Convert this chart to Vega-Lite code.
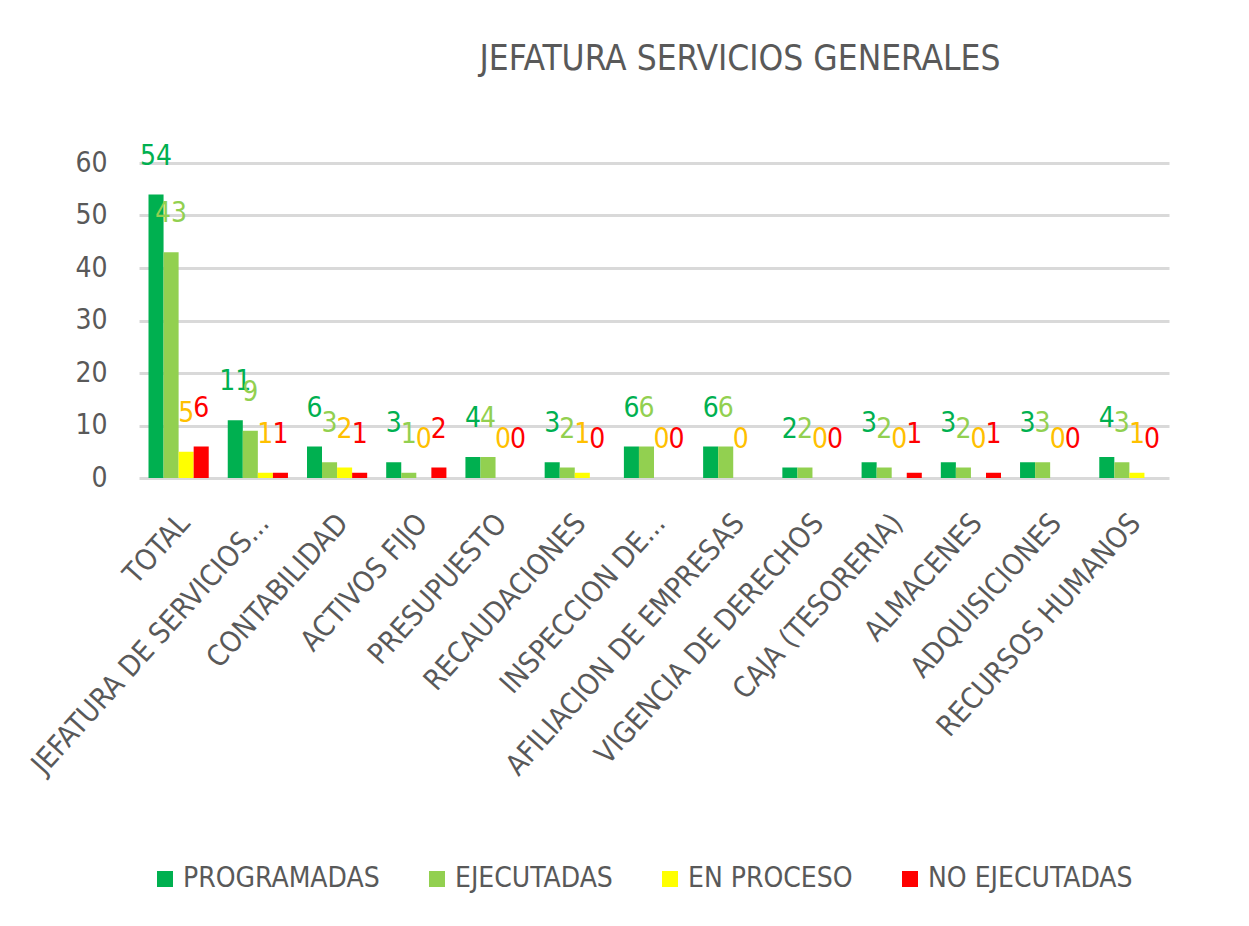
{
  "$schema": "https://vega.github.io/schema/vega-lite/v6.json",
  "width": 1030,
  "height": 315,
  "autosize": {"type": "none"},
  "padding": {"left": 139, "top": 163, "right": 80, "bottom": 448},
  "background": "white",
  "title": {
    "text": "JEFATURA SERVICIOS GENERALES",
    "font": "DejaVu Sans Condensed",
    "fontSize": 35,
    "fontWeight": "normal",
    "color": "#595959",
    "anchor": "middle",
    "dx": 86,
    "offset": 66
  },
  "config": {
    "view": {"stroke": null},
    "font": "DejaVu Sans Condensed"
  },
  "data": {
    "values": [
      {"cat": "TOTAL", "serie": "PROGRAMADAS", "value": 54},
      {"cat": "TOTAL", "serie": "EJECUTADAS", "value": 43},
      {"cat": "TOTAL", "serie": "EN PROCESO", "value": 5},
      {"cat": "TOTAL", "serie": "NO EJECUTADAS", "value": 6},
      {"cat": "JEFATURA DE SERVICIOS...", "serie": "PROGRAMADAS", "value": 11},
      {"cat": "JEFATURA DE SERVICIOS...", "serie": "EJECUTADAS", "value": 9},
      {"cat": "JEFATURA DE SERVICIOS...", "serie": "EN PROCESO", "value": 1},
      {"cat": "JEFATURA DE SERVICIOS...", "serie": "NO EJECUTADAS", "value": 1},
      {"cat": "CONTABILIDAD", "serie": "PROGRAMADAS", "value": 6},
      {"cat": "CONTABILIDAD", "serie": "EJECUTADAS", "value": 3},
      {"cat": "CONTABILIDAD", "serie": "EN PROCESO", "value": 2},
      {"cat": "CONTABILIDAD", "serie": "NO EJECUTADAS", "value": 1},
      {"cat": "ACTIVOS FIJO", "serie": "PROGRAMADAS", "value": 3},
      {"cat": "ACTIVOS FIJO", "serie": "EJECUTADAS", "value": 1},
      {"cat": "ACTIVOS FIJO", "serie": "EN PROCESO", "value": 0},
      {"cat": "ACTIVOS FIJO", "serie": "NO EJECUTADAS", "value": 2},
      {"cat": "PRESUPUESTO", "serie": "PROGRAMADAS", "value": 4},
      {"cat": "PRESUPUESTO", "serie": "EJECUTADAS", "value": 4},
      {"cat": "PRESUPUESTO", "serie": "EN PROCESO", "value": 0},
      {"cat": "PRESUPUESTO", "serie": "NO EJECUTADAS", "value": 0},
      {"cat": "RECAUDACIONES", "serie": "PROGRAMADAS", "value": 3},
      {"cat": "RECAUDACIONES", "serie": "EJECUTADAS", "value": 2},
      {"cat": "RECAUDACIONES", "serie": "EN PROCESO", "value": 1},
      {"cat": "RECAUDACIONES", "serie": "NO EJECUTADAS", "value": 0},
      {"cat": "INSPECCION DE...", "serie": "PROGRAMADAS", "value": 6},
      {"cat": "INSPECCION DE...", "serie": "EJECUTADAS", "value": 6},
      {"cat": "INSPECCION DE...", "serie": "EN PROCESO", "value": 0},
      {"cat": "INSPECCION DE...", "serie": "NO EJECUTADAS", "value": 0},
      {"cat": "AFILIACION DE EMPRESAS", "serie": "PROGRAMADAS", "value": 6},
      {"cat": "AFILIACION DE EMPRESAS", "serie": "EJECUTADAS", "value": 6},
      {"cat": "AFILIACION DE EMPRESAS", "serie": "EN PROCESO", "value": 0},
      {"cat": "VIGENCIA DE DERECHOS", "serie": "PROGRAMADAS", "value": 2},
      {"cat": "VIGENCIA DE DERECHOS", "serie": "EJECUTADAS", "value": 2},
      {"cat": "VIGENCIA DE DERECHOS", "serie": "EN PROCESO", "value": 0},
      {"cat": "VIGENCIA DE DERECHOS", "serie": "NO EJECUTADAS", "value": 0},
      {"cat": "CAJA (TESORERIA)", "serie": "PROGRAMADAS", "value": 3},
      {"cat": "CAJA (TESORERIA)", "serie": "EJECUTADAS", "value": 2},
      {"cat": "CAJA (TESORERIA)", "serie": "EN PROCESO", "value": 0},
      {"cat": "CAJA (TESORERIA)", "serie": "NO EJECUTADAS", "value": 1},
      {"cat": "ALMACENES", "serie": "PROGRAMADAS", "value": 3},
      {"cat": "ALMACENES", "serie": "EJECUTADAS", "value": 2},
      {"cat": "ALMACENES", "serie": "EN PROCESO", "value": 0},
      {"cat": "ALMACENES", "serie": "NO EJECUTADAS", "value": 1},
      {"cat": "ADQUISICIONES", "serie": "PROGRAMADAS", "value": 3},
      {"cat": "ADQUISICIONES", "serie": "EJECUTADAS", "value": 3},
      {"cat": "ADQUISICIONES", "serie": "EN PROCESO", "value": 0},
      {"cat": "ADQUISICIONES", "serie": "NO EJECUTADAS", "value": 0},
      {"cat": "RECURSOS HUMANOS", "serie": "PROGRAMADAS", "value": 4},
      {"cat": "RECURSOS HUMANOS", "serie": "EJECUTADAS", "value": 3},
      {"cat": "RECURSOS HUMANOS", "serie": "EN PROCESO", "value": 1},
      {"cat": "RECURSOS HUMANOS", "serie": "NO EJECUTADAS", "value": 0}
    ]
  },
  "encoding": {
    "x": {
      "field": "cat",
      "type": "nominal",
      "sort": null,
      "scale": {"paddingInner": 0.24, "paddingOuter": 0.12},
      "axis": {
        "title": null,
        "domain": false,
        "ticks": false,
        "labelAngle": -48,
        "labelAlign": "right",
        "labelBaseline": "middle",
        "labelPadding": 40,
        "labelOffset": 6,
        "labelFontSize": 29,
        "labelColor": "#595959",
        "labelLimit": 400
      }
    },
    "xOffset": {
      "field": "serie",
      "type": "nominal",
      "sort": ["PROGRAMADAS", "EJECUTADAS", "EN PROCESO", "NO EJECUTADAS"]
    },
    "y": {
      "field": "value",
      "type": "quantitative",
      "scale": {"domain": [0, 60], "nice": false},
      "axis": {
        "title": null,
        "values": [0, 10, 20, 30, 40, 50, 60],
        "domain": false,
        "ticks": false,
        "labelPadding": 32,
        "labelFontSize": 28,
        "labelColor": "#595959",
        "gridColor": "#D9D9D9",
        "gridWidth": 3
      }
    }
  },
  "layer": [
    {
      "mark": {"type": "bar"},
      "encoding": {
        "color": {
          "field": "serie",
          "type": "nominal",
          "sort": ["PROGRAMADAS", "EJECUTADAS", "EN PROCESO", "NO EJECUTADAS"],
          "scale": {
            "domain": ["PROGRAMADAS", "EJECUTADAS", "EN PROCESO", "NO EJECUTADAS"],
            "range": ["#00B050", "#92D050", "#FFFF00", "#FF0000"]
          },
          "legend": {
            "title": null,
            "orient": "none",
            "legendX": 12,
            "legendY": 702,
            "direction": "horizontal",
            "columns": 4,
            "symbolType": "square",
            "symbolSize": 256,
            "symbolStrokeWidth": 0,
            "labelFontSize": 28,
            "labelColor": "#595959",
            "labelOffset": 4,
            "columnPadding": 43,
            "labelLimit": 400
          }
        }
      }
    },
    {
      "mark": {"type": "text", "baseline": "bottom", "dy": -24, "fontSize": 28},
      "encoding": {
        "text": {"field": "value", "type": "quantitative"},
        "color": {
          "field": "serie",
          "type": "nominal",
          "scale": {
            "domain": ["PROGRAMADAS", "EJECUTADAS", "EN PROCESO", "NO EJECUTADAS"],
            "range": ["#00B050", "#92D050", "#FFC000", "#FF0000"]
          },
          "legend": null
        }
      }
    }
  ],
  "resolve": {"scale": {"color": "independent"}}
}
